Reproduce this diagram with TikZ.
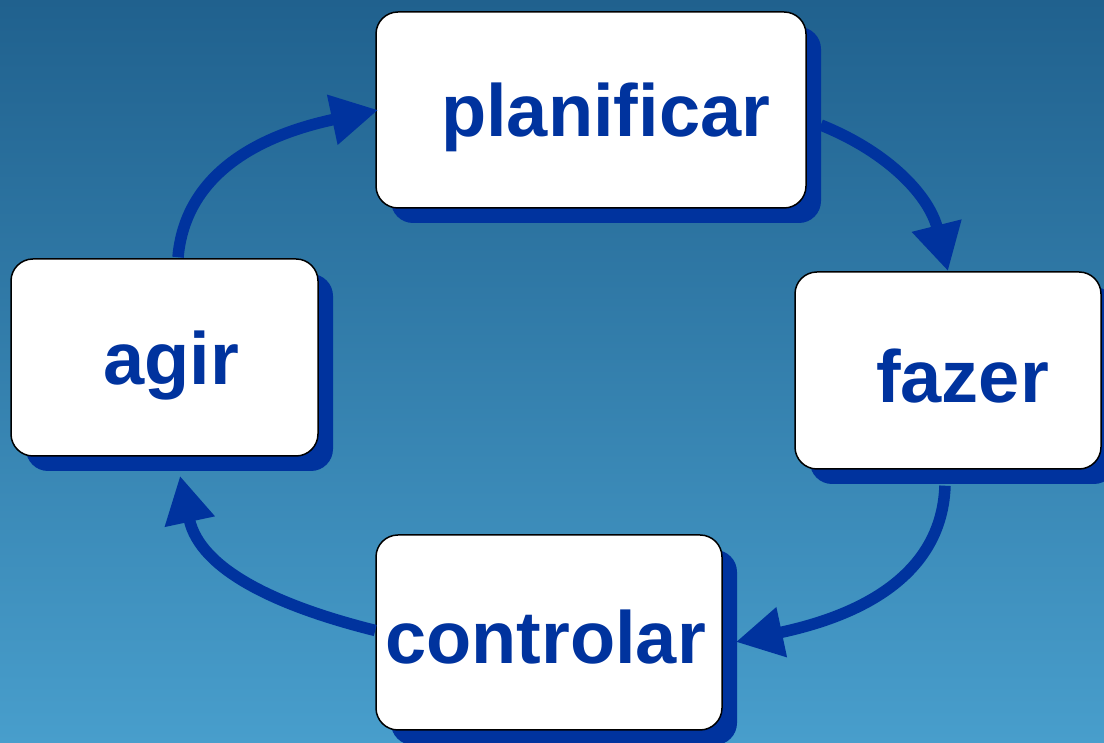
\documentclass[tikz,border=0pt]{standalone}
\usepackage{fontspec}
\setmainfont{Liberation Sans}
\usetikzlibrary{arrows.meta,shadows}
\definecolor{bgtop}{RGB}{32,97,142}
\definecolor{bgbot}{RGB}{72,158,204}
\definecolor{deepblue}{RGB}{0,51,158}
\tikzset{
  box/.style={rectangle, rounded corners=22pt, draw=black, line width=1.5pt, fill=white,
    inner sep=0pt,
    drop shadow={shadow xshift=15pt, shadow yshift=-15pt, fill=deepblue, opacity=1}},
  lbl/.style={anchor=base west, inner sep=0pt, text=deepblue,
    font=\fontsize{74}{80}\selectfont\bfseries},
  flow/.style={draw=deepblue, line width=11.5pt,
    -{Triangle[length=47pt,width=48pt]}}
}
\begin{document}
\begin{tikzpicture}[x=1pt,y=1pt]
\useasboundingbox (0,0) rectangle (1104,743);
\shade[top color=bgtop, bottom color=bgbot] (0,0) rectangle (1104,743);

\node[box, minimum width=430pt, minimum height=196pt] (plan) at (591,633) {};
\node[box, minimum width=306pt, minimum height=197pt] (fazer) at (948,372.5) {};
\node[box, minimum width=346pt, minimum height=195pt] (ctrl) at (549,110.5) {};
\node[box, minimum width=307pt, minimum height=197pt] (agir) at (164.5,385.5) {};

\draw[flow] ([xshift=14pt,yshift=-15pt]plan.east) to[out=-22,in=104] (fazer.north);
\draw[flow] ([xshift=-3pt,yshift=-16pt]fazer.south) to[out=-92,in=12] ([xshift=13pt,yshift=-9.5pt]ctrl.east);
\draw[flow] ([yshift=2pt]ctrl.west) to[out=166,in=-78] ([xshift=15.5pt,yshift=-19pt]agir.south);
\draw[flow] ([xshift=13.5pt,yshift=1pt]agir.north) to[out=85,in=192] ([xshift=3pt]plan.west);

\node[lbl] (tplan) at (441,606) {planificar};
\node[lbl] (tfazer) at (876,340) {fazer};
\node[lbl] (tctrl) at (385,79) {controlar};
\node[lbl] (tagir) at (103,358) {agir};
\end{tikzpicture}
\end{document}
